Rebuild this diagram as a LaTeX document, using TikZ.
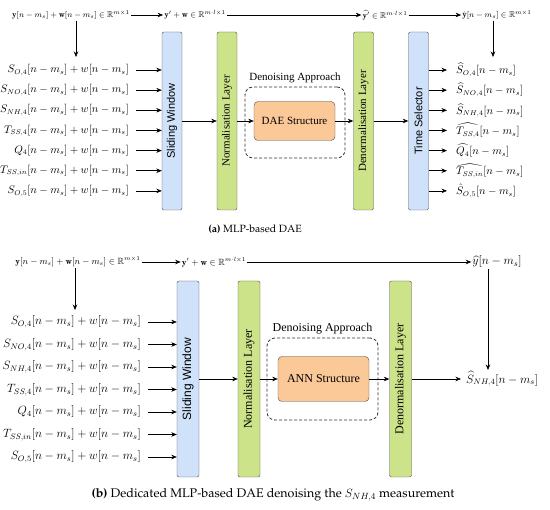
\documentclass[tikz,border=0pt]{standalone}
\usepackage{amsmath,amssymb}
\usepackage{fontspec}
\usepackage{xcolor}
\usepackage{tikz}
\usetikzlibrary{arrows.meta,positioning,calc}
\newfontfamily\timesfont{Liberation Serif}
\newfontfamily\arialfont{Liberation Sans}
\newcommand\capfont{\fontencoding{T1}\fontfamily{ppl}\selectfont}
\definecolor{winblue}{HTML}{CFE2FA}
\definecolor{laygreen}{HTML}{CDE38A}
\definecolor{netorange}{HTML}{FBC898}

\begin{document}
\begin{tikzpicture}[x=1pt,y=-1pt,
    arr/.style={-{Stealth[length=5.5pt,width=4.5pt]},semithick},
    layer/.style={draw=black!70,rounded corners=2pt,minimum width=20pt,minimum height=178pt,inner sep=0pt},
    netbox/.style={draw=black!70,fill=netorange,rounded corners=4pt},
    approach/.style={draw=black!80,densely dashed,thick,rounded corners=8pt},
    toplbl/.style={font=\fontsize{8.5}{10}\selectfont,inner sep=1pt}]
  \useasboundingbox (0,0) rectangle (550,510);

  % ---------- (a) MLP-based DAE ----------
  \begin{scope}[inlbl/.style={font=\fontsize{10.5}{12}\selectfont,inner sep=1pt},
                boxfont/.style={font=\fontsize{11}{13}\selectfont}]
  % top row of signals
  \node[toplbl] (yin) at (71,15) {$\mathbf{y}[n-m_s]+\mathbf{w}[n-m_s]\in\mathbb{R}^{m\times 1}$};
  \node[toplbl] (ywin) at (195,15) {$\mathbf{y}'+\mathbf{w}\in\mathbb{R}^{m\cdot l\times 1}$};
  \node[toplbl] (yden) at (385,15) {$\widehat{\mathbf{y}'}\in\mathbb{R}^{m\cdot l\times 1}$};
  \node[toplbl] (yout) at (497,15) {$\hat{\mathbf{y}}[n-m_s]\in\mathbb{R}^{m\times 1}$};
  \draw[arr] (yin) -- (ywin);
  \draw[arr] (ywin) -- (yden);
  \draw[arr] (yden) -- (yout);
  \coordinate (split) at (76,57);
  \coordinate (merge) at (493,57);
  \draw[arr] (yin.south -| split) -- (split);
  \draw[arr] (yout.south -| merge) -- (merge);
  % layers
  \node[layer,fill=winblue,boxfont] (win) at (172,121) {\rotatebox{90}{\arialfont Sliding Window}};
  \node[layer,fill=laygreen,boxfont] (norm) at (227,121) {\rotatebox{90}{\timesfont Normalisation Layer}};
  \node[layer,fill=laygreen,boxfont] (denorm) at (363.5,121) {\rotatebox{90}{\timesfont Denormalisation Layer}};
  \node[layer,fill=winblue,boxfont] (sel) at (418.5,121) {\rotatebox{90}{\arialfont Time Selector}};
  % denoising approach
  \node[approach,minimum width=100pt,minimum height=71pt] (appr) at (295,122.5) {};
  \node[boxfont,above=0pt of appr] (apprlbl) {\timesfont Denoising Approach};
  \node[netbox,boxfont,minimum width=81pt,minimum height=39pt] (dae) at (294.5,121) {\timesfont DAE Structure};
  \draw[arr] (win) -- (norm);
  \draw[arr] (norm) -- (dae);
  \draw[arr] (dae) -- (denorm);
  \draw[arr] (denorm) -- (sel);
  % inputs and outputs
  \foreach \sig/\est [count=\i] in {{S_{O,4}}/{\widehat{S}_{O,4}},{S_{NO,4}}/{\widehat{S}_{NO,4}},
      {S_{NH,4}}/{\widehat{S}_{NH,4}},{T_{SS,4}}/{\widehat{T_{SS,4}}},{Q_4}/{\widehat{Q_4}},
      {T_{SS,in}}/{\widehat{T_{SS,in}}},{S_{O,5}}/{\hat{S}_{O,5}}} {
    \node[inlbl,anchor=east] (in\i) at (130,{70+20.15*(\i-1)}) {$\sig[n-m_s]+w[n-m_s]$};
    \node[inlbl,anchor=west] (out\i) at (455,{70+20.15*(\i-1)}) {$\est[n-m_s]$};
    \draw[arr,shorten <=6pt] (in\i.east) -- (in\i.east -| win.west);
    \draw[arr,shorten >=8pt] (out\i.west -| sel.east) -- (out\i.west);
  }
  \node[font=\fontsize{10.5}{12}\selectfont] (capa) at (255,229) {\capfont\textbf{(a)} MLP-based DAE};
  \end{scope}

  % ---------- (b) dedicated DAE for S_NH,4 ----------
  \begin{scope}[inlbl/.style={font=\fontsize{11.5}{13}\selectfont,inner sep=1pt},
                boxfont/.style={font=\fontsize{12}{14}\selectfont}]
  % top row of signals
  \node[toplbl,font=\fontsize{9}{11}\selectfont] (yinb) at (78,262) {$\mathbf{y}[n-m_s]+\mathbf{w}[n-m_s]\in\mathbb{R}^{m\times 1}$};
  \node[toplbl,font=\fontsize{9}{11}\selectfont] (ywinb) at (214,262) {$\mathbf{y}'+\mathbf{w}\in\mathbb{R}^{m\cdot l\times 1}$};
  \node[inlbl] (youtb) at (497,262) {$\widehat{y}[n-m_s]$};
  \draw[arr] (yinb) -- (ywinb);
  \draw[arr] (ywinb) -- (youtb);
  \coordinate (splitb) at (75,310);
  \draw[arr] (yinb.south -| splitb) -- (splitb);
  % layers
  \node[layer,fill=winblue,boxfont,minimum width=22pt,minimum height=196pt] (winb) at (188,379) {\rotatebox{90}{\arialfont Sliding Window}};
  \node[layer,fill=laygreen,boxfont,minimum width=22pt,minimum height=196pt] (normb) at (249,379) {\rotatebox{90}{\timesfont Normalisation Layer}};
  \node[layer,fill=laygreen,boxfont,minimum width=22pt,minimum height=196pt] (denormb) at (400.5,379) {\rotatebox{90}{\timesfont Denormalisation Layer}};
  % denoising approach
  \node[approach,minimum width=111pt,minimum height=82pt] (apprb) at (322.5,379) {};
  \node[boxfont,above=0pt of apprb] (apprlblb) {\timesfont Denoising Approach};
  \node[netbox,boxfont,minimum width=91pt,minimum height=45pt] (ann) at (323.5,379) {\timesfont ANN Structure};
  \node[inlbl,anchor=west] (outb) at (465,379) {$\widehat{S}_{NH,4}[n-m_s]$};
  \draw[arr] (winb) -- (normb);
  \draw[arr] (normb) -- (ann);
  \draw[arr] (ann) -- (denormb);
  \draw[arr,shorten >=4pt] (denormb) -- (outb);
  \coordinate (mergeb) at (488,370);
  \draw[arr] (youtb.south -| mergeb) -- (mergeb);
  % inputs
  \foreach \sig [count=\i] in {{S_{O,4}},{S_{NO,4}},{S_{NH,4}},{T_{SS,4}},{Q_4},{T_{SS,in}},{S_{O,5}}} {
    \node[inlbl,anchor=east] (inb\i) at (142,{322+22.5*(\i-1)}) {$\sig[n-m_s]+w[n-m_s]$};
    \draw[arr,shorten <=6pt] (inb\i.east) -- (inb\i.east -| winb.west);
  }
  \node[font=\fontsize{12.5}{14}\selectfont] (capb) at (273,495) {\capfont\textbf{(b)} Dedicated MLP-based DAE denoising the $S_{NH,4}$ measurement};
  \end{scope}
\end{tikzpicture}
\end{document}
